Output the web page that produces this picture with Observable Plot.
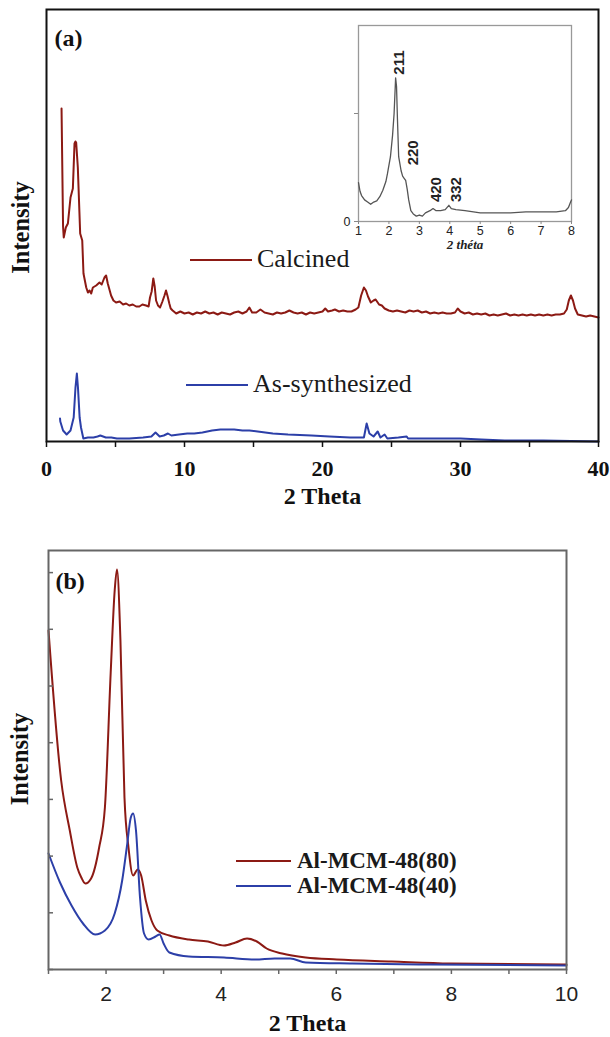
<!DOCTYPE html>
<html><head><meta charset="utf-8">
<script src="https://cdn.jsdelivr.net/npm/d3@7"></script>
<script src="https://cdn.jsdelivr.net/npm/@observablehq/plot@0.6"></script>
<style>
body{margin:0;background:#fff;}
#root{position:relative;width:610px;height:1037px;overflow:hidden;}
.leg{position:absolute;display:flex;align-items:center;white-space:nowrap;color:#1a1a1a;}
</style></head><body><div id="root"></div>
<script>
// ---------- Panel (a): wide-angle XRD ----------
const calcinedX = [1.09,1.2,1.25,1.4,1.55,1.74,1.91,2.03,2.1,2.15,2.27,2.44,2.59,2.68,2.88,3.0,3.12,3.24,3.36,3.6,3.84,4.0,4.2,4.32,4.44,4.56,4.68,4.85,5.04,5.3,5.55,5.77,6.0,6.25,6.5,6.73,6.95,7.21,7.4,7.5,7.62,7.74,7.84,7.94,8.08,8.23,8.4,8.55,8.66,8.78,8.9,9.0,9.14,9.4,9.7,10.0,10.3,10.6,10.9,11.2,11.5,11.8,12.1,12.4,12.7,13.0,13.3,13.6,13.9,14.2,14.5,14.7,14.9,15.2,15.5,15.8,16.1,16.4,16.7,17.0,17.3,17.6,17.9,18.2,18.5,18.8,19.1,19.4,19.7,20.0,20.2,20.4,20.7,20.9,21.2,21.5,21.8,22.1,22.4,22.6,22.8,23.0,23.15,23.3,23.5,23.7,23.85,24.1,24.3,24.5,24.8,25.1,25.4,25.7,26.0,26.3,26.6,26.9,27.2,27.5,27.8,28.1,28.4,28.7,29.0,29.3,29.6,29.8,30.0,30.3,30.6,30.9,31.2,31.5,31.8,32.1,32.4,32.7,33.0,33.3,33.6,33.9,34.2,34.5,34.8,35.1,35.4,35.7,36.0,36.3,36.6,36.9,37.2,37.5,37.7,37.85,38.0,38.15,38.3,38.5,38.8,39.1,39.4,39.7,40];
const calcinedY = [333,215,204,214,218,244,253,298,300,299,274,208,201,168,154,149,151,148,154,156,159,157,164,166,158,152,146,141,139,140,137,138,136,137,135,135,137,136,135,144,150,163,155,141,136,134,140,146,151,145,138,133,131,128,130,128,129,127,129,128,130,128,129,127,129,128,127,129,130,128,130,134,129,129,132,129,128,127,129,128,129,131,129,128,129,127,129,128,129,130,133,130,131,132,130,131,130,130,132,134,146,154,151,145,139,141,142,137,136,133,131,130,131,130,129,131,130,131,129,130,128,129,128,129,128,128,129,133,130,128,129,127,128,127,128,126,127,126,127,128,126,127,126,127,126,127,126,127,126,127,126,127,127,128,132,141,146,141,133,127,126,125,126,125,124];
const asSynX = [0.98,1.0,1.2,1.46,1.74,1.97,2.1,2.2,2.28,2.4,2.5,2.67,3.0,3.4,3.7,3.9,4.3,4.7,5.1,6.0,7.0,7.6,7.9,8.2,8.5,8.8,9.05,9.6,10.2,10.7,11.3,12,12.6,13.1,13.6,14.2,14.7,15.3,16.4,17.5,19.2,20.5,22,23,23.2,23.4,23.7,24,24.2,24.5,24.7,25.5,26.1,26.2,28,30,31.5,33.2,36,40];
const asSynY = [23,20,11,7,11,24,54,68,54,24,14,3,4,4,5,6,4,4,3,3,4,5,9,5,6,8,6,7,8,8,9,11,12,12,12,11,11,10,8,7,6,5,4,4,18,8,5,10,4,7,3,4,5,3,3,3,2,1,1,0];
const ticksA = [0,5,10,15,20,25,30,35,40];
const seriesA = ["Calcined","As-synthesized"];
const colorsA = ["#8c1a14","#2c3fa8"];

// ---------- Inset of (a): low-angle ----------
const insetX = [1.0,1.05,1.1,1.2,1.3,1.4,1.5,1.6,1.7,1.8,1.9,1.95,2.05,2.12,2.17,2.2,2.22,2.25,2.28,2.32,2.4,2.45,2.5,2.55,2.6,2.65,2.72,2.8,2.9,3.0,3.1,3.2,3.35,3.45,3.55,3.7,3.85,3.97,4.05,4.2,4.5,5.0,5.5,6.0,6.5,7.0,7.5,7.8,7.9,7.97,8.0];
const insetY = [0.36,0.28,0.24,0.2,0.18,0.16,0.18,0.19,0.23,0.29,0.37,0.44,0.6,0.8,1.0,1.2,1.33,1.25,0.95,0.6,0.47,0.42,0.4,0.38,0.3,0.2,0.1,0.07,0.05,0.06,0.05,0.08,0.1,0.12,0.1,0.1,0.11,0.15,0.12,0.11,0.1,0.08,0.08,0.08,0.09,0.09,0.09,0.1,0.13,0.18,0.2];
const insetTicksX = [1,2,3,4,5,6,7,8];
const insetTicksY = [0,1];
const peakLabels = ["211","220","420","332"];
const peakX = [2.35,2.81,3.56,4.22];
const peakY = [1.36,0.52,0.18,0.18];

// ---------- Panel (b): Al-MCM-48 ----------
const mcm80X = [1.0,1.22,1.37,1.5,1.57,1.64,1.74,1.88,1.98,2.08,2.15,2.19,2.25,2.32,2.39,2.47,2.55,2.61,2.69,2.79,2.89,3.1,3.44,3.77,4.05,4.25,4.45,4.62,4.79,5.06,5.47,6.01,6.96,7.98,10];
const mcm80Y = [339,189,139,102,92,86,91,122,162,296,379,400,329,172,122,94,100,94,69,49,39,34,30,28,24,27,31,28,21,16,12,10,8,6,5];
const mcm40X = [1.0,1.2,1.4,1.6,1.81,1.98,2.15,2.28,2.36,2.43,2.47,2.52,2.59,2.66,2.74,2.86,2.93,3.0,3.1,3.44,4.05,4.59,4.93,5.2,5.47,6.28,7.64,10];
const mcm40Y = [116,87,64,46,35,39,56,89,122,152,156,139,72,36,30,33,35,26,17,13,12,10,11,11,7,6,5,4];
const ticksB = [1,2,3,4,5,6,7,8,9,10];
const yTicksB = [0,56.7,113.4,170.1,226.8,283.5,340.2,396.9];
const seriesB = ["Al-MCM-48(80)","Al-MCM-48(40)"];
const colorsB = ["#8c1a14","#2c3fa8"];

const serif = "'Liberation Serif','Times New Roman',serif";
const sans = "'Liberation Sans',Arial,sans-serif";
const root = document.getElementById("root");

function place(node, left, top) {
  node.style.position = "absolute";
  node.style.left = left + "px";
  node.style.top = top + "px";
  root.appendChild(node);
}

// Panel (a)
const plotA = Plot.plot({
  width: 610, height: 520, marginTop: 9, marginBottom: 79, marginLeft: 46, marginRight: 12,
  style: {fontFamily: serif, background: "transparent", overflow: "visible"},
  x: {domain: [0, 40]},
  y: {domain: [0, 432], axis: null},
  marks: [
    Plot.line(calcinedX, {x: calcinedX, y: calcinedY, stroke: colorsA[0], strokeWidth: 2}),
    Plot.line(asSynX, {x: asSynX, y: asSynY, stroke: colorsA[1], strokeWidth: 2}),
    Plot.frame({stroke: "#111", strokeWidth: 2}),
    Plot.axisX({ticks: ticksA, tickSize: 6, tickPadding: 13, tickFormat: d => d % 10 === 0 ? String(d) : "",
      fontFamily: serif, fontSize: 22, fontWeight: "bold", label: null, stroke: "#111", fill: "#111", strokeWidth: 1.5}),
    Plot.text(["2 Theta"], {frameAnchor: "bottom", dy: 62, fontFamily: serif, fontSize: 24, fontWeight: "bold", fill: "#111"}),
    Plot.text(["Intensity"], {frameAnchor: "left", textAnchor: "middle", rotate: -90, dx: -25, dy: 2, fontFamily: serif, fontSize: 24.5, fontWeight: "bold", fill: "#111"}),
    Plot.text(["(a)"], {frameAnchor: "top-left", dx: 8, dy: 19, textAnchor: "start", fontFamily: serif, fontSize: 24, fontWeight: "bold", fill: "#111"})
  ]
});
place(plotA, 0, 0);

// Inset
const inset = Plot.plot({
  width: 268, height: 246, marginTop: 10, marginBottom: 40, marginLeft: 40, marginRight: 15,
  style: {fontFamily: sans, background: "transparent", overflow: "visible"},
  x: {domain: [1, 8]},
  y: {domain: [0, 1.815]},
  marks: [
    Plot.frame({stroke: "#999", strokeWidth: 1.3}),
    Plot.line(insetX, {x: insetX, y: insetY, stroke: "#555", strokeWidth: 1.3}),
    Plot.axisX({ticks: insetTicksX, tickSize: 3, tickPadding: 2, tickFormat: d => String(d), fontFamily: sans, fontSize: 12.5, label: null, stroke: "#888", fill: "#222"}),
    Plot.axisY({ticks: insetTicksY, tickSize: 4, tickPadding: 4, tickFormat: d => d === 0 ? "0" : "", fontFamily: sans, fontSize: 12.5, label: null, stroke: "#888", fill: "#222"}),
    Plot.text(peakLabels, {x: peakX, y: peakY, rotate: -90, textAnchor: "start", fontFamily: sans, fontWeight: "bold", fontSize: 15, fill: "#222"}),
    Plot.text(["2 théta"], {frameAnchor: "bottom", dy: 27, fontFamily: serif, fontStyle: "italic", fontWeight: "bold", fontSize: 13, fill: "#222"})
  ]
});
place(inset, 318, 15);

// Panel (b)
const plotB = Plot.plot({
  width: 610, height: 517, marginTop: 30, marginBottom: 68, marginLeft: 48, marginRight: 44,
  style: {fontFamily: serif, background: "transparent", overflow: "visible"},
  x: {domain: [1, 10]},
  y: {domain: [0, 419], axis: null},
  marks: [
    Plot.line(mcm80X, {x: mcm80X, y: mcm80Y, stroke: colorsB[0], strokeWidth: 2, curve: "monotone-x"}),
    Plot.line(mcm40X, {x: mcm40X, y: mcm40Y, stroke: colorsB[1], strokeWidth: 2, curve: "monotone-x"}),
    Plot.tickY(yTicksB, {y: d => d, insetRight: 513, stroke: "#666", strokeWidth: 1.5}),
    Plot.frame({stroke: "#666", strokeWidth: 2}),
    Plot.axisX({ticks: ticksB, tickSize: 5, tickPadding: 12, tickFormat: d => d % 2 === 0 ? String(d) : "",
      fontSize: 21, fontFamily: sans, label: null, stroke: "#666", fill: "#222", strokeWidth: 1.5}),
    Plot.text(["2 Theta"], {frameAnchor: "bottom", dy: 61, fontFamily: serif, fontSize: 24, fontWeight: "bold", fill: "#111"}),
    Plot.text(["Intensity"], {frameAnchor: "left", textAnchor: "middle", rotate: -90, dx: -28, dy: -1, fontFamily: serif, fontSize: 24.5, fontWeight: "bold", fill: "#111"}),
    Plot.text(["(b)"], {frameAnchor: "top-left", dx: 7, dy: 21, textAnchor: "start", fontFamily: serif, fontSize: 24, fontWeight: "bold", fill: "#111"})
  ]
});
place(plotB, 0, 520);

// Legends
function legend(labels, colors, left, centers, lineW, gap, fontSize, weight) {
  labels.forEach((lab, i) => {
    const d = document.createElement("div");
    d.className = "leg";
    d.style.left = left[i] + "px";
    d.style.top = (centers[i] - fontSize / 2) + "px";
    d.style.height = fontSize + "px";
    d.style.lineHeight = fontSize + "px";
    d.style.fontFamily = serif;
    d.style.fontSize = fontSize + "px";
    d.style.fontWeight = weight;
    const svg = document.createElementNS("http://www.w3.org/2000/svg", "svg");
    svg.setAttribute("width", lineW);
    svg.setAttribute("height", 6);
    svg.style.marginRight = gap + "px";
    svg.style.marginTop = "2px";
    const ln = document.createElementNS("http://www.w3.org/2000/svg", "line");
    ln.setAttribute("x1", 0); ln.setAttribute("x2", lineW);
    ln.setAttribute("y1", 3); ln.setAttribute("y2", 3);
    ln.setAttribute("stroke", colors[i]); ln.setAttribute("stroke-width", 2);
    svg.appendChild(ln);
    d.appendChild(svg);
    const s = document.createElement("span");
    s.textContent = lab;
    d.appendChild(s);
    root.appendChild(d);
  });
}
legend(seriesA, colorsA, [190, 186], [259, 384], 62, 5, 26, "normal");
legend(seriesB, colorsB, [236, 236], [860, 885], 55, 6, 23, "bold");
</script>
</body></html>
